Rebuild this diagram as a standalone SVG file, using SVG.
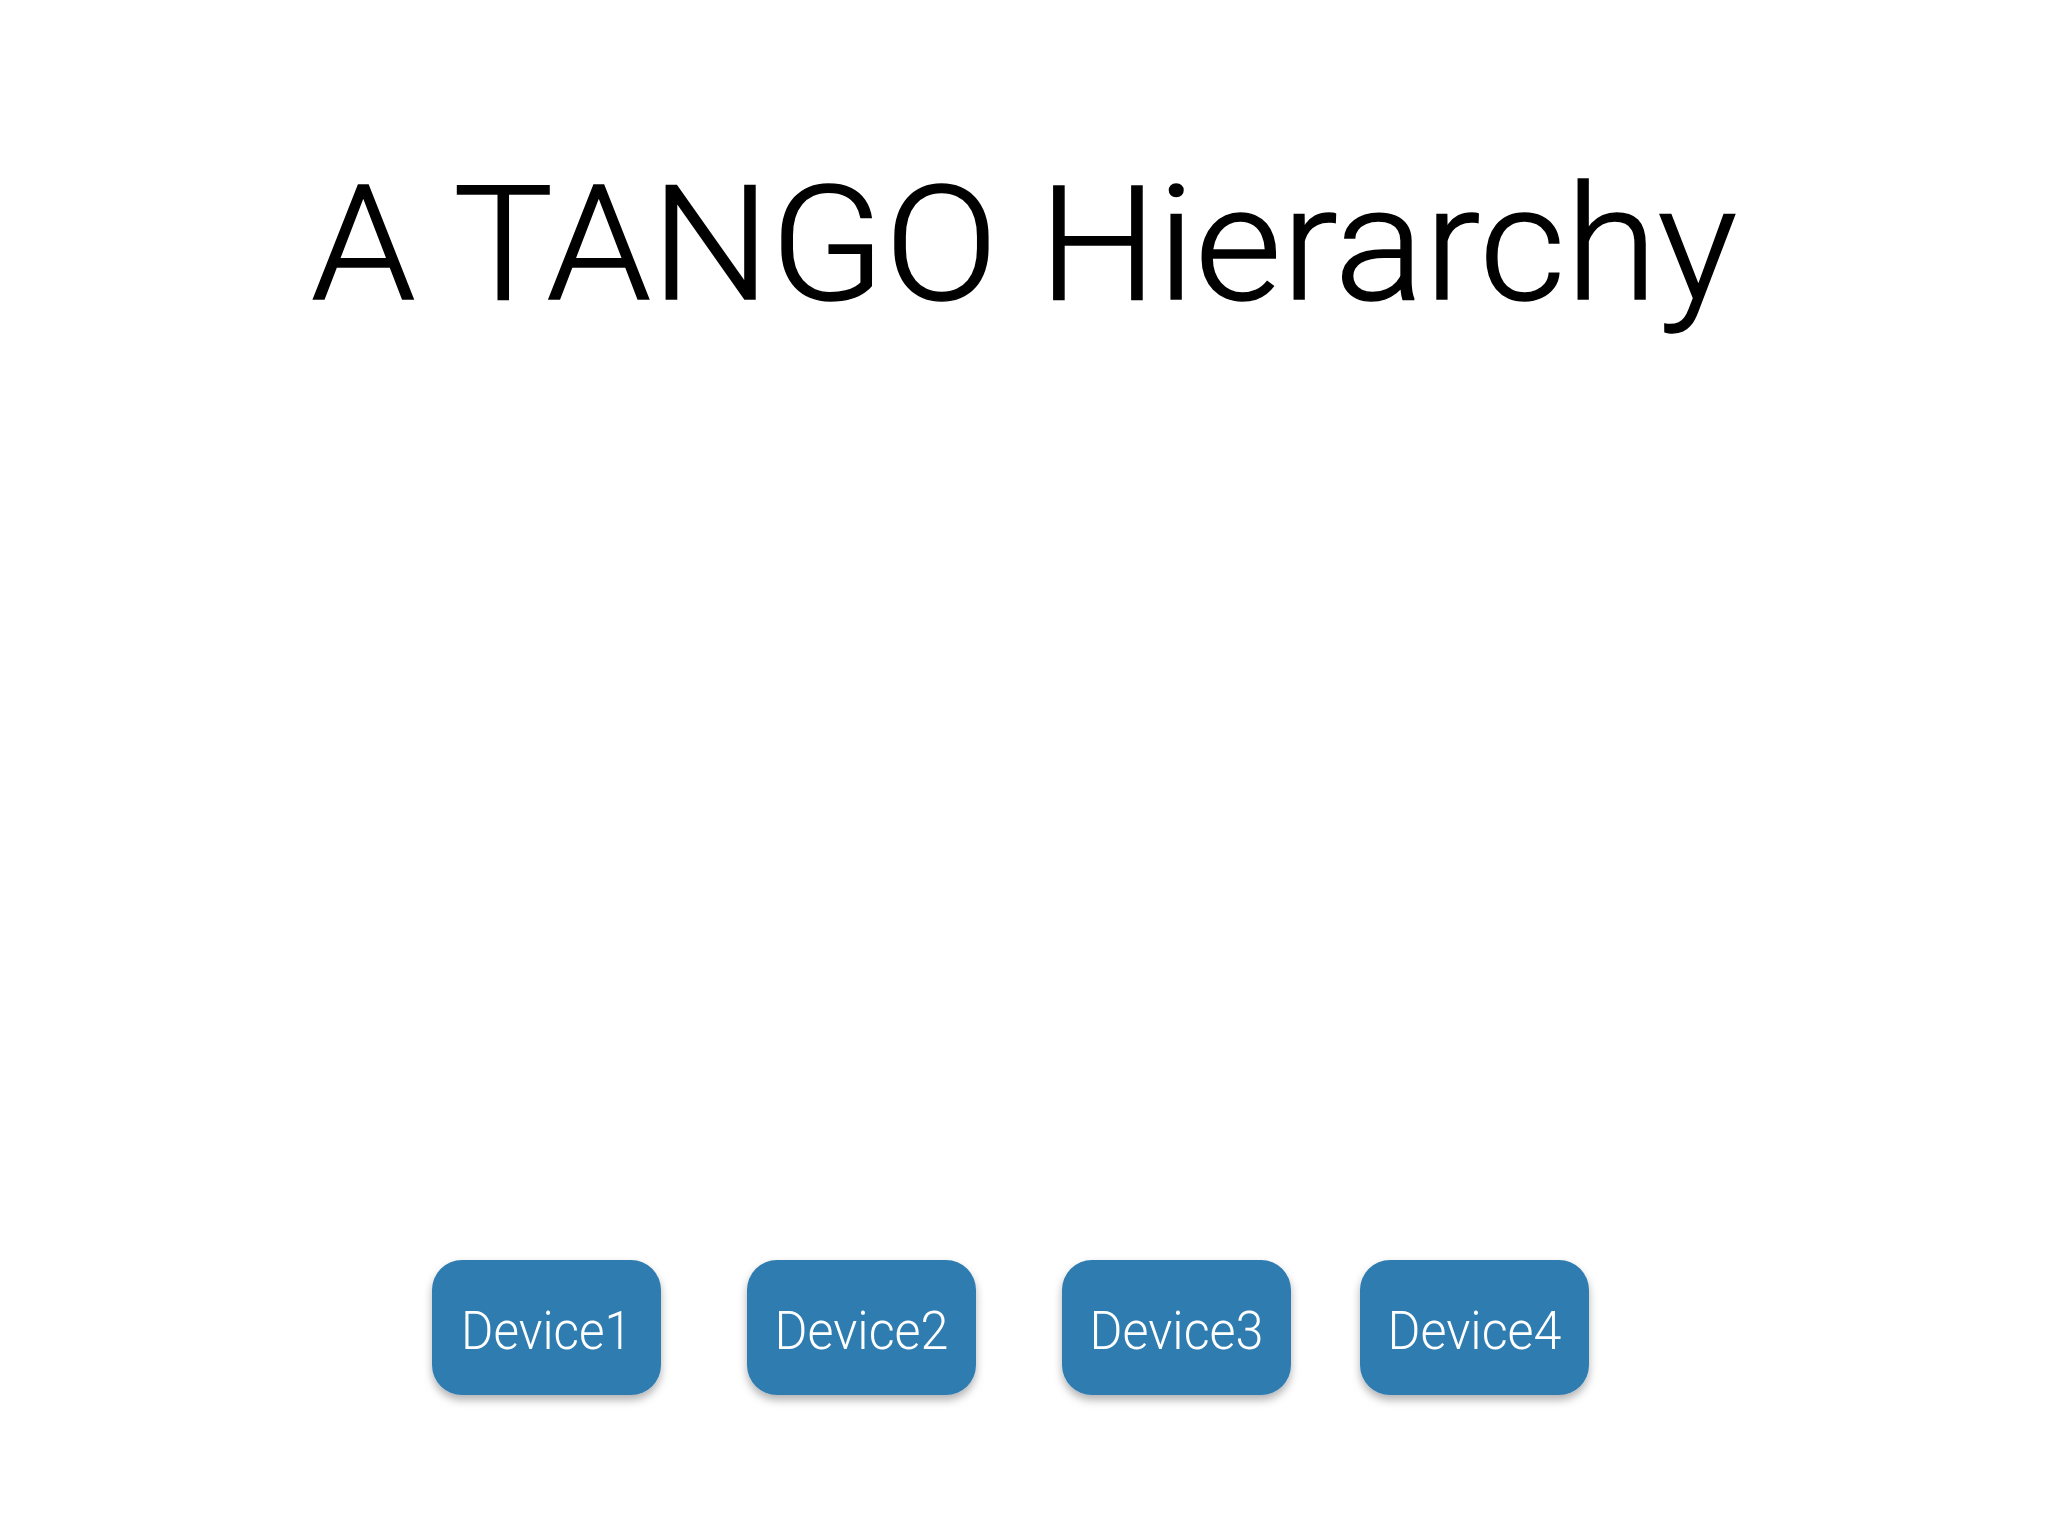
<svg xmlns="http://www.w3.org/2000/svg" width="2048" height="1536" viewBox="0 0 2048 1536">
<style>
.title{font-family:"Helvetica Neue",Roboto,"Liberation Sans",sans-serif;font-weight:300;font-size:160px;fill:#000;stroke:#000;stroke-width:1.5px}
.box{fill:#2f7bb0;filter:url(#sh)}
.lbl{font-family:"Helvetica Neue",Roboto,"Liberation Sans",sans-serif;font-weight:300;font-size:54px;fill:#fff;text-anchor:middle}
</style>
<defs>
<filter id="sh" x="-10%" y="-10%" width="120%" height="130%">
<feDropShadow dx="0" dy="5" stdDeviation="4" flood-color="#000" flood-opacity="0.3"/>
</filter>
</defs>
<rect width="2048" height="1536" fill="#fff"/>
<text class="title" x="311" y="299" textLength="1426" lengthAdjust="spacingAndGlyphs">A TANGO Hierarchy</text>
<g id="connectors"></g>
<g id="device1"><rect class="box" x="432" y="1260" width="229" height="135" rx="30"/><text class="lbl" x="546.5" y="1349" textLength="171" lengthAdjust="spacingAndGlyphs">Device1</text></g>
<g id="device2"><rect class="box" x="747" y="1260" width="229" height="135" rx="30"/><text class="lbl" x="861.5" y="1349" textLength="174" lengthAdjust="spacingAndGlyphs">Device2</text></g>
<g id="device3"><rect class="box" x="1062" y="1260" width="229" height="135" rx="30"/><text class="lbl" x="1176.5" y="1349" textLength="174" lengthAdjust="spacingAndGlyphs">Device3</text></g>
<g id="device4"><rect class="box" x="1360" y="1260" width="229" height="135" rx="30"/><text class="lbl" x="1474.5" y="1349" textLength="174" lengthAdjust="spacingAndGlyphs">Device4</text></g>
</svg>
